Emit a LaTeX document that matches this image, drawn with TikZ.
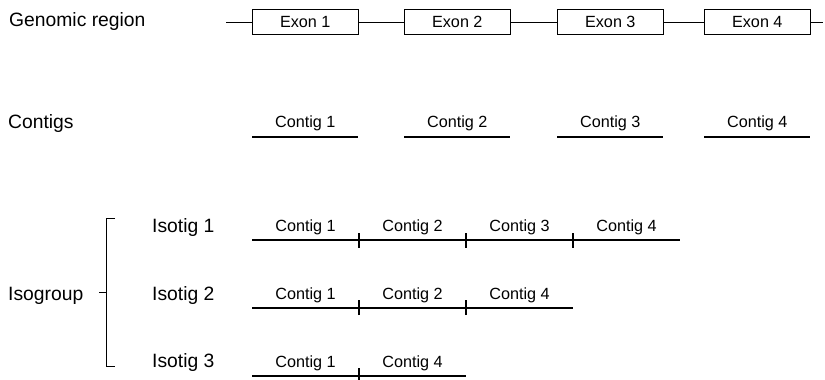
\documentclass[tikz,border=0pt]{standalone}
\usepackage{fontspec}
\setmainfont{Liberation Sans}
\begin{document}
\begin{tikzpicture}[x=1bp,y=-1bp,
  big/.style={font=\fontsize{19.3bp}{21bp}\selectfont, inner sep=0pt, anchor=base west},
  small/.style={font=\fontsize{16.2bp}{18bp}\selectfont, inner sep=0pt, anchor=base},
  exon/.style={draw, line width=0.9bp, minimum width=106bp, minimum height=25bp, inner sep=0pt,
    font=\fontsize{16.2bp}{18bp}\selectfont},
  thin/.style={line width=0.9bp},
  bar/.style={line width=2.4bp},
  tickmark/.style={line width=2bp}]
\useasboundingbox (0,0) rectangle (825,379);

% left labels
\node[big] (lgen) at (9,26.5) {Genomic region};
\node[big] (lcon) at (8,128) {Contigs};
\node[big] (liso) at (8,300) {Isogroup};
\node[big] (i1) at (152,232) {Isotig 1};
\node[big] (i2) at (152,300) {Isotig 2};
\node[big] (i3) at (152,367.5) {Isotig 3};

% genomic region
\coordinate (gs) at (226,22);
\coordinate (ge) at (823,22);
\node[exon] (e1) at (305.3,22) {Exon 1};
\node[exon] (e2) at (457.3,22) {Exon 2};
\node[exon] (e3) at (610.3,22) {Exon 3};
\node[exon] (e4) at (757.3,22) {Exon 4};
\draw[thin] (gs) -- (e1.west) (e1.east) -- (e2.west) (e2.east) -- (e3.west)
  (e3.east) -- (e4.west) (e4.east) -- (ge);

% contigs
\foreach \n/\a/\b in {1/252.3/358.3, 2/404.3/510.3, 3/557.3/663.3, 4/704.3/810.3}{
  \coordinate (c\n a) at (\a,136.7);
  \coordinate (c\n b) at (\b,136.7);
  \draw[bar] (c\n a) -- (c\n b);
  \node[small] (cl\n) at ({(\a+\b)/2},127.7) {Contig \n};
}

% isotig 1
\coordinate (s1) at (252.3,240);
\coordinate (t1a) at (359,240);
\coordinate (t1b) at (466,240);
\coordinate (t1c) at (573,240);
\coordinate (f1) at (680,240);
\draw[bar] (s1) -- (f1);
\foreach \t in {t1a,t1b,t1c}{\draw[tickmark] ([yshift=-7.5bp]\t) -- ([yshift=7.5bp]\t);}
\node[small] (a11) at (305.5,231.7) {Contig 1};
\node[small] (a12) at (412.5,231.7) {Contig 2};
\node[small] (a13) at (519.5,231.7) {Contig 3};
\node[small] (a14) at (626.5,231.7) {Contig 4};

% isotig 2
\coordinate (s2) at (252.3,307.7);
\coordinate (t2a) at (359,307.7);
\coordinate (t2b) at (466,307.7);
\coordinate (f2) at (573,307.7);
\draw[bar] (s2) -- (f2);
\foreach \t in {t2a,t2b}{\draw[tickmark] ([yshift=-7.5bp]\t) -- ([yshift=7.5bp]\t);}
\node[small] (a21) at (305.5,299.8) {Contig 1};
\node[small] (a22) at (412.5,299.8) {Contig 2};
\node[small] (a23) at (519.5,299.8) {Contig 4};

% isotig 3
\coordinate (s3) at (252.3,375.7);
\coordinate (t3a) at (359,375.7);
\coordinate (f3) at (466,375.7);
\draw[bar] (s3) -- (f3);
\draw[tickmark] ([yshift=-7.5bp]t3a) -- ([yshift=7.5bp]t3a);
\node[small] (a31) at (305.5,367.5) {Contig 1};
\node[small] (a32) at (412.5,367.5) {Contig 4};

% bracket
\coordinate (bt) at (115,218);
\coordinate (bb) at (115,366);
\coordinate (bm) at (99,292);
\draw[thin] (bt) -- (106,218) -- (106,366) -- (bb);
\draw[thin] (bm) -- (106,292);
\end{tikzpicture}
\end{document}
